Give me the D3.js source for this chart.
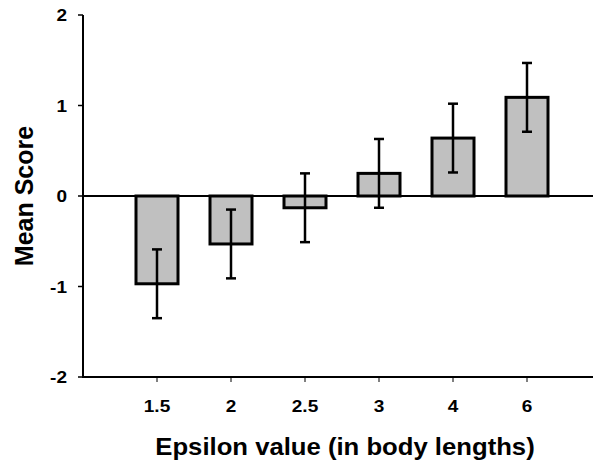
<!DOCTYPE html>
<html>
<head>
<meta charset="utf-8">
<script src="https://cdn.jsdelivr.net/npm/d3@7"></script>
<style>
  html, body { margin: 0; padding: 0; background: #fff; }
  svg { display: block; }
  text { font-family: "Liberation Sans", Arial, sans-serif; font-weight: bold; fill: #000; }
</style>
</head>
<body>
<script>
const categories = ["1.5", "2", "2.5", "3", "4", "6"];
const means = [-0.97, -0.53, -0.13, 0.25, 0.64, 1.09];
const errors = [0.38, 0.38, 0.38, 0.38, 0.38, 0.38];
const yTicks = [-2, -1, 0, 1, 2];
const xTitle = "Epsilon value (in body lengths)";
const yTitle = "Mean Score";

const W = 593, H = 464;
const svg = d3.select("body").append("svg").attr("width", W).attr("height", H);

const axisX = 83;
const x = d3.scalePoint().domain(categories).range([157, 527]);
const y = d3.scaleLinear().domain([-2, 2]).range([377, 15]);
const sx = 1.12; // horizontal text stretch seen in reference

// zero line
svg.append("line").attr("x1", axisX).attr("x2", W).attr("y1", y(0)).attr("y2", y(0))
  .attr("stroke", "#000").attr("stroke-width", 2);

// bars
const barW = 42;
svg.selectAll("rect.bar").data(categories).enter().append("rect")
  .attr("class", "bar")
  .attr("x", d => x(d) - barW / 2)
  .attr("width", barW)
  .attr("y", (d, i) => Math.min(y(0), y(means[i])))
  .attr("height", (d, i) => Math.abs(y(means[i]) - y(0)))
  .attr("fill", "#c0c0c0").attr("stroke", "#000").attr("stroke-width", 3);

// error bars
const eg = svg.selectAll("g.err").data(categories).enter().append("g").attr("class", "err");
eg.append("line")
  .attr("x1", d => x(d)).attr("x2", d => x(d))
  .attr("y1", (d, i) => y(means[i] + errors[i]))
  .attr("y2", (d, i) => y(means[i] - errors[i]))
  .attr("stroke", "#000").attr("stroke-width", 2.5);
[1, -1].forEach(s => {
  eg.append("line")
    .attr("x1", d => x(d) - 5).attr("x2", d => x(d) + 5)
    .attr("y1", (d, i) => y(means[i] + s * errors[i]))
    .attr("y2", (d, i) => y(means[i] + s * errors[i]))
    .attr("stroke", "#000").attr("stroke-width", 2.5);
});

// y axis
const yAxis = svg.append("g");
yAxis.append("line").attr("x1", axisX).attr("x2", axisX).attr("y1", y(2)).attr("y2", y(-2))
  .attr("stroke", "#000").attr("stroke-width", 2);
yAxis.selectAll("line.tick").data(yTicks).enter().append("line")
  .attr("x1", axisX - 5).attr("x2", axisX).attr("y1", d => y(d)).attr("y2", d => y(d))
  .attr("stroke", "#000").attr("stroke-width", 1.5);
yAxis.selectAll("text").data(yTicks).enter().append("text")
  .attr("transform", d => `translate(67,${y(d) + 6}) scale(${sx},1)`)
  .attr("text-anchor", "end").attr("font-size", 17)
  .text(d => d);

// x axis
const xAxis = svg.append("g");
xAxis.append("line").attr("x1", axisX - 1).attr("x2", W).attr("y1", y(-2)).attr("y2", y(-2))
  .attr("stroke", "#000").attr("stroke-width", 2);
xAxis.selectAll("line.tick").data(categories).enter().append("line")
  .attr("x1", d => x(d)).attr("x2", d => x(d)).attr("y1", y(-2)).attr("y2", y(-2) + 5)
  .attr("stroke", "#000").attr("stroke-width", 1);
xAxis.selectAll("text").data(categories).enter().append("text")
  .attr("transform", d => `translate(${x(d)},412) scale(${sx},1)`)
  .attr("text-anchor", "middle").attr("font-size", 17)
  .text(d => d);

// titles
svg.append("text")
  .attr("transform", `translate(345,455) scale(1.07,1)`)
  .attr("text-anchor", "middle").attr("font-size", 24)
  .text(xTitle);
svg.append("text")
  .attr("transform", `translate(33,196) rotate(-90)`)
  .attr("text-anchor", "middle").attr("font-size", 25)
  .text(yTitle);
</script>
</body>
</html>
